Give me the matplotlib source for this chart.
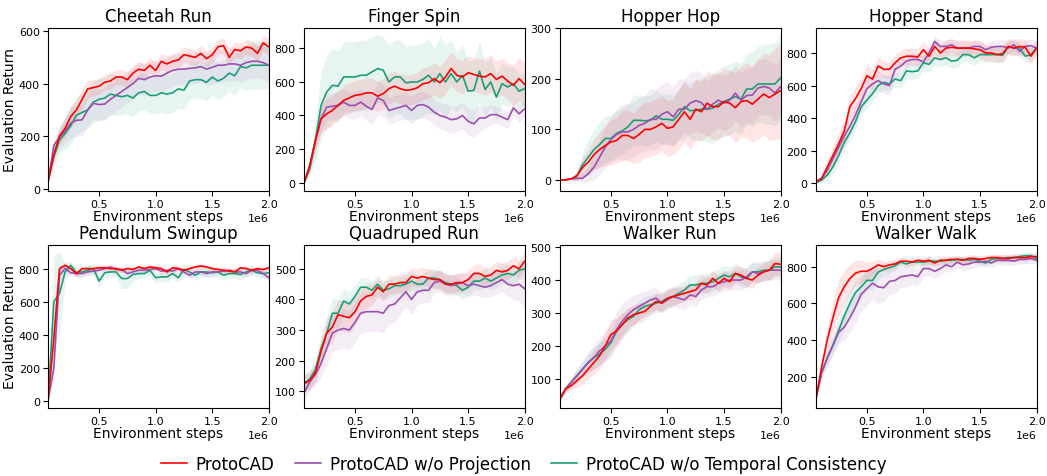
import numpy as np
import matplotlib
matplotlib.use("Agg")
import matplotlib.pyplot as plt
from matplotlib.ticker import MultipleLocator

# evaluation every 50k env steps
steps = np.arange(1, 41) * 50_000

tasks = ["Cheetah Run", "Finger Spin", "Hopper Hop", "Hopper Stand",
         "Pendulum Swingup", "Quadruped Run", "Walker Run", "Walker Walk"]
ytick_step = [200, 200, 100, 200, 200, 100, 100, 200]
labels = ["ProtoCAD", "ProtoCAD w/o Projection", "ProtoCAD w/o Temporal Consistency"]
colors = ["#ff0000", "#9b4fb0", "#1b9e77"]

# ---- Cheetah Run ----
cheetah_full = [30, 130, 200, 230, 275, 300, 340, 380, 385, 390, 405, 410, 425, 425, 415, 440, 455, 450, 470, 450,
                485, 475, 485, 490, 510, 505, 500, 515, 495, 510, 540, 545, 500, 530, 525, 540, 535, 515, 555, 540]
cheetah_noproj = [30, 165, 195, 220, 250, 260, 262, 300, 325, 320, 322, 340, 355, 370, 385, 400, 420, 415, 425, 430,
                  428, 440, 450, 455, 455, 458, 460, 465, 455, 462, 470, 470, 475, 475, 470, 480, 485, 485, 480, 470]
cheetah_notc = [30, 120, 185, 210, 240, 280, 290, 300, 330, 340, 345, 360, 355, 350, 355, 345, 365, 370, 355, 355,
                365, 360, 365, 380, 375, 410, 415, 415, 405, 425, 410, 420, 440, 430, 465, 460, 470, 470, 470, 470]
cheetah_full_sd = [10, 30, 30, 35, 40, 40, 40, 35, 30, 30, 30, 30, 30, 30, 30, 30, 30, 30, 30, 30,
                   30, 30, 30, 30, 30, 30, 30, 30, 30, 30, 30, 30, 30, 30, 30, 30, 30, 30, 30, 35]
cheetah_noproj_sd = [10, 30, 40, 50, 60, 60, 60, 60, 60, 60, 60, 60, 60, 60, 60, 60, 60, 60, 60, 60,
                     60, 60, 60, 60, 60, 60, 60, 60, 60, 65, 65, 65, 65, 65, 65, 65, 65, 65, 65, 65]
cheetah_notc_sd = [10, 40, 50, 60, 70, 70, 70, 70, 80, 80, 80, 80, 75, 70, 70, 70, 70, 70, 70, 70,
                   75, 75, 75, 75, 75, 70, 70, 70, 70, 70, 70, 70, 70, 75, 80, 85, 90, 90, 90, 90]

# ---- Finger Spin ----
finger_full = [0, 100, 250, 380, 410, 430, 460, 490, 505, 520, 525, 535, 535, 515, 530, 560, 575, 560, 550, 555,
               565, 590, 595, 620, 595, 630, 680, 640, 630, 655, 645, 635, 630, 650, 615, 635, 605, 580, 620, 585]
finger_noproj = [0, 100, 250, 380, 450, 455, 460, 480, 460, 460, 480, 455, 435, 505, 490, 430, 440, 450, 460, 430,
                 460, 465, 450, 420, 400, 390, 375, 380, 400, 365, 350, 385, 385, 405, 405, 390, 375, 445, 410, 440]
finger_notc = [0, 80, 250, 460, 540, 580, 575, 630, 630, 630, 640, 640, 660, 680, 670, 600, 630, 630, 595, 600,
               600, 615, 640, 600, 650, 600, 650, 600, 640, 545, 550, 665, 555, 600, 510, 590, 570, 590, 545, 560]
finger_full_sd = [5, 30, 60, 80, 90, 90, 90, 90, 90, 90, 90, 90, 90, 90, 90, 90, 90, 90, 90, 90,
                  90, 95, 95, 95, 95, 100, 100, 100, 100, 100, 100, 100, 110, 110, 110, 110, 110, 120, 130, 130]
finger_noproj_sd = [5, 30, 60, 80, 80, 80, 80, 80, 80, 80, 80, 80, 90, 100, 100, 80, 80, 80, 80, 80,
                    80, 80, 80, 80, 80, 80, 80, 80, 80, 80, 80, 80, 60, 60, 50, 50, 50, 50, 50, 50]
finger_notc_sd = [5, 40, 120, 200, 220, 220, 210, 210, 210, 210, 210, 210, 210, 200, 200, 220, 220, 220, 220, 220,
                  220, 220, 220, 200, 220, 220, 200, 180, 180, 180, 180, 180, 160, 150, 140, 120, 120, 100, 100, 100]

# ---- Hopper Hop ----
hop_full = [0, 0, 2, 8, 25, 35, 50, 60, 68, 75, 78, 88, 88, 82, 90, 100, 100, 105, 112, 102,
            105, 120, 135, 120, 140, 135, 152, 145, 145, 155, 152, 143, 155, 157, 150, 160, 170, 163, 170, 177]
hop_noproj = [0, 0, 2, 3, 3, 12, 25, 45, 65, 80, 90, 95, 95, 100, 108, 112, 120, 120, 130, 135,
              125, 140, 140, 152, 157, 153, 140, 150, 158, 152, 158, 172, 158, 167, 168, 182, 185, 182, 172, 185]
hop_notc = [0, 0, 2, 8, 30, 45, 60, 70, 82, 82, 92, 97, 105, 118, 118, 117, 118, 127, 120, 120,
            118, 130, 145, 137, 138, 140, 140, 142, 150, 155, 160, 165, 160, 180, 180, 190, 190, 190, 190, 202]
hop_full_sd = [0, 0, 2, 10, 20, 25, 30, 35, 40, 45, 45, 50, 50, 50, 55, 55, 55, 55, 55, 55,
               55, 60, 60, 60, 60, 60, 65, 65, 65, 65, 65, 70, 70, 75, 75, 80, 80, 85, 90, 95]
hop_noproj_sd = [0, 0, 2, 5, 10, 15, 25, 35, 40, 45, 50, 55, 55, 55, 55, 55, 60, 60, 60, 60,
                 60, 60, 60, 60, 60, 60, 55, 55, 55, 55, 55, 55, 55, 55, 55, 55, 55, 55, 55, 55]
hop_notc_sd = [0, 0, 2, 10, 25, 35, 40, 45, 45, 45, 45, 45, 45, 50, 50, 50, 50, 50, 50, 50,
               50, 50, 50, 55, 60, 60, 65, 70, 70, 70, 70, 70, 70, 70, 75, 75, 78, 80, 82, 85]

# ---- Hopper Stand ----
stand_full = [10, 30, 100, 170, 240, 320, 470, 520, 580, 660, 640, 720, 700, 700, 740, 770, 780, 780, 775, 820,
              780, 840, 800, 830, 835, 830, 830, 830, 825, 820, 800, 800, 790, 795, 840, 830, 840, 835, 780, 830]
stand_noproj = [10, 30, 80, 150, 220, 290, 350, 420, 500, 580, 610, 630, 610, 600, 700, 720, 750, 760, 760, 745,
                800, 870, 840, 840, 850, 830, 830, 830, 840, 840, 820, 835, 840, 840, 830, 850, 810, 840, 845, 830]
stand_notc = [5, 20, 50, 100, 170, 250, 310, 380, 470, 510, 550, 600, 620, 610, 640, 630, 690, 685, 690, 740,
              730, 770, 760, 770, 750, 755, 790, 790, 770, 790, 790, 790, 790, 785, 840, 830, 830, 780, 790, 830]
stand_full_sd = [5, 15, 40, 60, 70, 70, 70, 70, 70, 70, 60, 60, 50, 50, 50, 50, 50, 50, 50, 50,
                 50, 50, 50, 50, 50, 50, 50, 50, 50, 50, 50, 50, 50, 50, 50, 50, 50, 50, 50, 50]
stand_noproj_sd = [5, 15, 30, 50, 60, 60, 60, 60, 60, 60, 60, 60, 60, 60, 50, 50, 40, 40, 40, 40,
                   40, 40, 40, 40, 40, 40, 40, 40, 40, 40, 40, 40, 40, 40, 40, 40, 40, 40, 40, 40]
stand_notc_sd = [5, 15, 30, 40, 50, 50, 50, 50, 50, 50, 50, 50, 45, 45, 45, 45, 45, 45, 45, 45,
                 45, 45, 45, 45, 45, 45, 45, 45, 45, 45, 45, 45, 45, 45, 40, 40, 40, 40, 40, 40]

# ---- Pendulum Swingup ----
pend_full = [10, 380, 800, 820, 800, 770, 800, 800, 800, 805, 805, 800, 800, 790, 800, 795, 810, 800, 810, 805,
             800, 780, 805, 800, 790, 800, 810, 815, 810, 800, 795, 790, 785, 780, 805, 800, 790, 800, 795, 805]
pend_noproj = [10, 200, 760, 800, 775, 770, 770, 780, 785, 790, 800, 810, 795, 795, 770, 780, 790, 790, 795, 800,
               785, 790, 785, 800, 780, 760, 780, 780, 770, 780, 780, 785, 790, 780, 780, 770, 790, 790, 770, 745]
pend_notc = [10, 600, 650, 780, 820, 775, 780, 790, 800, 725, 775, 780, 780, 740, 740, 765, 770, 770, 790, 745,
             750, 750, 770, 745, 795, 780, 760, 780, 780, 775, 780, 760, 770, 770, 765, 780, 790, 775, 770, 775]
pend_full_sd = [5, 60, 20, 15, 15, 20, 15, 15, 15, 15, 15, 15, 15, 15, 15, 15, 15, 15, 15, 15,
                15, 15, 15, 15, 15, 15, 15, 15, 15, 15, 15, 15, 15, 15, 15, 15, 15, 15, 15, 15]
pend_noproj_sd = [5, 60, 40, 20, 20, 20, 20, 20, 20, 20, 20, 20, 20, 20, 20, 20, 20, 20, 20, 20,
                  20, 20, 20, 20, 20, 20, 20, 20, 20, 20, 20, 20, 20, 20, 20, 20, 20, 20, 20, 25]
pend_notc_sd = [5, 280, 250, 60, 25, 30, 30, 30, 30, 40, 30, 30, 30, 60, 60, 40, 30, 30, 30, 30,
                30, 30, 30, 30, 30, 30, 30, 30, 30, 30, 30, 30, 30, 30, 30, 30, 30, 30, 30, 30]

# ---- Quadruped Run ----
quad_full = [125, 135, 160, 230, 290, 310, 350, 345, 340, 360, 395, 410, 415, 440, 425, 450, 450, 455, 455, 475,
             470, 475, 470, 465, 465, 450, 450, 455, 455, 465, 485, 485, 475, 480, 495, 490, 495, 510, 500, 525]
quad_noproj = [95, 130, 155, 190, 240, 290, 300, 305, 300, 325, 355, 360, 360, 360, 355, 380, 385, 405, 425, 400,
               425, 430, 430, 455, 460, 450, 445, 450, 455, 445, 450, 445, 440, 445, 455, 465, 450, 445, 450, 435]
quad_notc = [125, 140, 170, 240, 290, 355, 355, 395, 385, 410, 440, 440, 430, 450, 430, 435, 445, 445, 450, 460,
             450, 450, 470, 470, 465, 455, 450, 445, 430, 440, 460, 460, 470, 460, 470, 480, 485, 480, 495, 500]
quad_full_sd = [30, 30, 30, 40, 50, 50, 50, 50, 50, 45, 40, 40, 35, 30, 30, 30, 30, 30, 30, 30,
                30, 30, 30, 30, 30, 30, 30, 30, 30, 30, 30, 30, 30, 30, 30, 30, 30, 30, 30, 30]
quad_noproj_sd = [25, 30, 35, 45, 55, 60, 65, 65, 65, 65, 65, 65, 65, 65, 65, 60, 60, 55, 50, 50,
                  45, 40, 40, 35, 35, 35, 35, 35, 35, 35, 35, 35, 35, 35, 40, 40, 40, 45, 55, 65]
quad_notc_sd = [25, 30, 35, 45, 50, 50, 45, 40, 40, 35, 30, 30, 30, 30, 30, 30, 30, 30, 30, 30,
                30, 30, 30, 30, 30, 30, 30, 30, 30, 30, 30, 30, 30, 30, 30, 30, 30, 30, 30, 30]

# ---- Walker Run ----
wrun_full = [40, 70, 80, 95, 110, 130, 150, 170, 200, 235, 245, 265, 285, 295, 300, 305, 320, 335, 330, 345,
             350, 355, 360, 365, 370, 390, 385, 405, 390, 405, 395, 420, 415, 405, 400, 415, 425, 430, 450, 448]
wrun_noproj = [40, 70, 90, 110, 130, 150, 165, 185, 200, 215, 250, 275, 295, 310, 320, 330, 340, 345, 330, 340,
               350, 345, 340, 355, 350, 370, 380, 380, 390, 395, 400, 400, 400, 410, 425, 420, 425, 430, 430, 430]
wrun_notc = [40, 70, 90, 110, 130, 150, 165, 175, 190, 210, 245, 265, 280, 290, 310, 320, 325, 330, 335, 345,
             350, 360, 370, 385, 385, 390, 390, 395, 405, 415, 410, 420, 410, 405, 425, 425, 430, 430, 440, 440]
wrun_full_sd = [5, 10, 15, 20, 25, 30, 35, 40, 40, 45, 40, 35, 30, 30, 30, 25, 25, 25, 25, 25,
                25, 25, 25, 25, 25, 25, 25, 25, 25, 25, 25, 25, 25, 25, 25, 25, 25, 30, 35, 35]
wrun_noproj_sd = [5, 10, 15, 20, 25, 30, 35, 40, 45, 50, 55, 55, 50, 45, 40, 35, 35, 35, 30, 30,
                  30, 30, 30, 30, 30, 30, 30, 30, 30, 30, 30, 30, 30, 30, 30, 30, 30, 30, 30, 30]
wrun_notc_sd = [5, 10, 15, 20, 25, 30, 35, 35, 35, 35, 35, 35, 35, 30, 30, 30, 30, 30, 30, 30,
                30, 30, 30, 30, 30, 30, 30, 30, 30, 30, 30, 30, 30, 30, 30, 30, 30, 30, 30, 30]

# ---- Walker Walk ----
wwalk_full = [80, 250, 400, 520, 630, 690, 735, 765, 775, 775, 790, 810, 800, 810, 815, 830, 830, 825, 835, 830,
              835, 820, 835, 835, 840, 840, 835, 845, 845, 840, 845, 850, 850, 845, 845, 850, 850, 850, 855, 855]
wwalk_noproj = [80, 220, 300, 370, 440, 470, 520, 580, 650, 680, 710, 690, 685, 720, 725, 745, 750, 755, 745, 790,
                790, 775, 790, 810, 800, 825, 810, 815, 825, 825, 830, 820, 835, 835, 835, 830, 840, 840, 845, 835]
wwalk_notc = [80, 220, 300, 370, 450, 530, 600, 660, 690, 725, 725, 770, 785, 795, 805, 825, 815, 825, 825, 825,
              830, 830, 830, 835, 835, 840, 840, 835, 840, 830, 820, 840, 845, 845, 850, 850, 855, 860, 860, 845]
wwalk_full_sd = [10, 40, 70, 90, 100, 90, 80, 70, 60, 50, 40, 30, 30, 25, 25, 20, 20, 20, 20, 20,
                 20, 20, 20, 20, 20, 20, 20, 20, 20, 20, 20, 20, 20, 20, 20, 20, 20, 20, 20, 20]
wwalk_noproj_sd = [10, 30, 40, 50, 60, 70, 80, 90, 90, 90, 90, 90, 80, 70, 70, 60, 60, 55, 50, 45,
                   40, 40, 35, 35, 30, 30, 30, 30, 30, 25, 25, 25, 25, 25, 25, 25, 25, 25, 25, 25]
wwalk_notc_sd = [10, 30, 40, 50, 60, 70, 70, 70, 60, 55, 50, 40, 35, 30, 25, 20, 20, 20, 20, 20,
                 20, 20, 20, 20, 20, 20, 20, 20, 20, 20, 20, 20, 20, 20, 20, 20, 20, 20, 20, 20]

means = [
    (cheetah_full, cheetah_noproj, cheetah_notc),
    (finger_full, finger_noproj, finger_notc),
    (hop_full, hop_noproj, hop_notc),
    (stand_full, stand_noproj, stand_notc),
    (pend_full, pend_noproj, pend_notc),
    (quad_full, quad_noproj, quad_notc),
    (wrun_full, wrun_noproj, wrun_notc),
    (wwalk_full, wwalk_noproj, wwalk_notc),
]
stds = [
    (cheetah_full_sd, cheetah_noproj_sd, cheetah_notc_sd),
    (finger_full_sd, finger_noproj_sd, finger_notc_sd),
    (hop_full_sd, hop_noproj_sd, hop_notc_sd),
    (stand_full_sd, stand_noproj_sd, stand_notc_sd),
    (pend_full_sd, pend_noproj_sd, pend_notc_sd),
    (quad_full_sd, quad_noproj_sd, quad_notc_sd),
    (wrun_full_sd, wrun_noproj_sd, wrun_notc_sd),
    (wwalk_full_sd, wwalk_noproj_sd, wwalk_notc_sd),
]

fig, axes = plt.subplots(2, 4, figsize=(10.47, 4.77), dpi=100)
fig.subplots_adjust(left=0.046, right=0.99, top=0.94, bottom=0.143, wspace=0.16, hspace=0.33)

# draw order: notc and noproj behind, full on top
order = [2, 1, 0]
for k, ax in enumerate(axes.flat):
    for i in order:
        m = np.array(means[k][i], dtype=float)
        s = np.array(stds[k][i], dtype=float)
        ax.fill_between(steps, m - s, m + s, color=colors[i], alpha=0.1, linewidth=0)
        ax.plot(steps, m, color=colors[i], lw=1.2, label=labels[i])
    ax.set_title(tasks[k], fontsize=12, pad=5)
    ax.set_xlabel("Environment steps", fontsize=10, labelpad=0)
    ax.set_xlim(50_000, 2_000_000)
    ax.set_xticks([500_000, 1_000_000, 1_500_000, 2_000_000])
    ax.yaxis.set_major_locator(MultipleLocator(ytick_step[k]))
    ax.tick_params(labelsize=8, pad=2.5)
    ax.xaxis.get_offset_text().set_fontsize(8)
    if k % 4 == 0:
        ax.set_ylabel("Evaluation Return", fontsize=10, labelpad=1)

handles, labs = axes[0, 0].get_legend_handles_labels()
hl = dict(zip(labs, handles))
fig.legend([hl[l] for l in labels], labels, loc="lower center", ncol=3, frameon=False,
           fontsize=12, bbox_to_anchor=(0.5, -0.025), columnspacing=1.2,
           handlelength=1.6, handletextpad=0.5)

fig.savefig("out.png", dpi=100)
